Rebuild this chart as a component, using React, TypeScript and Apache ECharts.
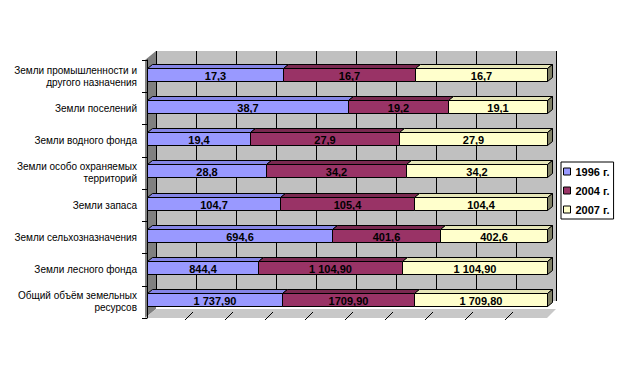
import React, { useEffect, useRef } from "react";
import * as echarts from "echarts";

const categories = [
  "Земли промышленности и\nдругого назначения",
  "Земли поселений",
  "Земли водного фонда",
  "Земли особо охраняемых\nтерриторий",
  "Земли запаса",
  "Земли сельхозназначения",
  "Земли лесного фонда",
  "Общий объём земельных\nресурсов",
];
const seriesNames = ["1996 г.", "2004 г.", "2007 г."];
const values1996 = [17.3, 38.7, 19.4, 28.8, 104.7, 694.6, 844.4, 1737.9];
const values2004 = [16.7, 19.2, 27.9, 34.2, 105.4, 401.6, 1104.9, 1709.9];
const values2007 = [16.7, 19.1, 27.9, 34.2, 104.4, 402.6, 1104.9, 1709.8];
const labels1996 = ["17,3", "38,7", "19,4", "28,8", "104,7", "694,6", "844,4", "1 737,90"];
const labels2004 = ["16,7", "19,2", "27,9", "34,2", "105,4", "401,6", "1 104,90", "1709,90"];
const labels2007 = ["16,7", "19,1", "27,9", "34,2", "104,4", "402,6", "1 104,90", "1 709,80"];
const percentTicks = [0, 10, 20, 30, 40, 50, 60, 70, 80, 90, 100];

const frontColors = ["#9999ff", "#993366", "#ffffcc"];
const topColors = ["#8585e6", "#7a2950", "#e6e6b8"];
const sideColors = ["#5c5c99", "#5c1f3d", "#808066"];

const FONT = "Arial, 'Liberation Sans', sans-serif";

// layout
const FL = 147, FT = 60, FW = 400, FH = 258; // front plane
const DX = 9, DY = -9; // wall depth
const BDX = 5, BDY = -4; // bar depth

export default function App() {
  const ref = useRef<HTMLDivElement>(null);
  useEffect(() => {
    document.body.style.margin = "0";
    if (!ref.current) return;
    const chart = echarts.init(ref.current, undefined, { renderer: "svg" });
    const allValues = [values1996, values2004, values2007];
    const allLabels = [labels1996, labels2004, labels2007];
    const totals = categories.map((_, i) => allValues.reduce((s, v) => s + v[i], 0));

    const series: any[] = allValues.map((vals, k) => {
      const data = vals.map((v, i) => {
        let start = 0;
        for (let j = 0; j < k; j++) start += allValues[j][i];
        const s = (start / totals[i]) * 100;
        const e = ((start + v) / totals[i]) * 100;
        return [s, e, i, k];
      });
      return {
        type: "custom",
        name: seriesNames[k],
        xAxisIndex: 0,
        yAxisIndex: 0,
        z: 10,
        itemStyle: { color: frontColors[k] },
        encode: { x: [0, 1], y: 2 },
        data,
        renderItem: (params: any, api: any) => {
          const s = api.value(0);
          const e = api.value(1);
          const c = api.value(2);
          const idx = params.dataIndex;
          const p0 = api.coord([s, c]);
          const p1 = api.coord([e, c]);
          const h = 13;
          const yTop = Math.round(p0[1] - 2 - h / 2) + 0.5;
          const yBot = yTop + h;
          const x0 = Math.round(p0[0]) + 0.5;
          const x1 = Math.round(p1[0]) + 0.5;
          const children: any[] = [
            {
              type: "polygon",
              shape: {
                points: [
                  [x0, yTop],
                  [x0 + BDX, yTop + BDY],
                  [x1 + BDX, yTop + BDY],
                  [x1, yTop],
                ],
              },
              style: { fill: topColors[k], stroke: "#000", lineWidth: 1 },
            },
            {
              type: "rect",
              shape: { x: x0, y: yTop, width: x1 - x0, height: h },
              style: { fill: frontColors[k], stroke: "#000", lineWidth: 1 },
            },
          ];
          if (k === allValues.length - 1) {
            children.push({
              type: "polygon",
              shape: {
                points: [
                  [x1, yTop],
                  [x1 + BDX, yTop + BDY],
                  [x1 + BDX, yBot + BDY],
                  [x1, yBot],
                ],
              },
              style: { fill: sideColors[k], stroke: "#000", lineWidth: 1 },
            });
          }
          children.push({
            type: "text",
            style: {
              text: allLabels[k][idx],
              x: (x0 + x1) / 2,
              y: (yTop + yBot) / 2 + 0.5,
              align: "center",
              verticalAlign: "middle",
              fontSize: 11,
              fontWeight: "bold",
              fontFamily: FONT,
              fill: "#000",
            },
          });
          return { type: "group", children };
        },
      };
    });

    const floorTicks: any[] = percentTicks.slice(1, 10).map((t) => {
      const x = FL + (t / 100) * FW - 2;
      return {
        type: "line",
        z: 3,
        shape: { x1: x, y1: FT + FH + 2, x2: x + 8, y2: FT + FH - 6 },
        style: { stroke: "#000", lineWidth: 1 },
      };
    });

    chart.setOption({
      animation: false,
      grid: [
        { left: FL, top: FT, width: FW, height: FH, show: false },
        {
          left: FL + DX,
          top: FT + DY,
          width: FW,
          height: FH + DY + 1,
          show: true,
          backgroundColor: "#c0c0c0",
          borderWidth: 0,
          z: 0,
        },
      ],
      xAxis: [
        { type: "value", gridIndex: 0, min: 0, max: 100, show: false },
        {
          type: "value",
          gridIndex: 1,
          min: 0,
          max: 100,
          interval: 10,
          axisLine: { show: false },
          axisTick: { show: false },
          axisLabel: { show: false },
          splitLine: { show: true, lineStyle: { color: "#000", width: 1 } },
          z: 1,
        },
      ],
      yAxis: [
        {
          type: "category",
          gridIndex: 0,
          inverse: true,
          data: categories,
          offset: 2,
          axisLine: { show: true, lineStyle: { color: "#000", width: 1 } },
          axisTick: { show: true, length: 5, lineStyle: { color: "#000" } },
          axisLabel: {
            margin: 8,
            color: "#000",
            fontSize: 10,
            fontFamily: FONT,
            lineHeight: 12,
            align: "right",
          },
          splitLine: { show: false },
          z: 6,
        },
        { type: "value", gridIndex: 1, show: false, splitLine: { show: false } },
      ],
      legend: {
        orient: "vertical",
        left: 561,
        top: 162,
        icon: "rect",
        itemWidth: 7,
        itemHeight: 7,
        itemGap: 8,
        padding: [4, 4, 4, 2],
        borderColor: "#000",
        borderWidth: 1,
        backgroundColor: "#fff",
        itemStyle: { borderColor: "#000", borderWidth: 1 },
        textStyle: { color: "#000", fontSize: 11, fontWeight: "bold", fontFamily: FONT },
        data: seriesNames,
      },
      graphic: [
        {
          type: "polygon",
          z: 2,
          shape: {
            points: [
              [FL - 2, FT],
              [FL + DX, FT + DY],
              [FL + DX, FT + FH + DY],
              [FL - 2, FT + FH],
            ],
          },
          style: { fill: "#808080" },
        },
        {
          type: "polygon",
          z: 2,
          shape: {
            points: [
              [FL - 2, FT + FH],
              [FL + DX, FT + FH + DY],
              [FL + FW + DX, FT + FH + DY],
              [FL + FW, FT + FH],
            ],
          },
          style: { fill: "#c8c8c8" },
        },
        ...floorTicks,
      ],
      series,
    });
    return () => chart.dispose();
  }, []);
  return <div ref={ref} style={{ width: 623, height: 388 }} />;
}
